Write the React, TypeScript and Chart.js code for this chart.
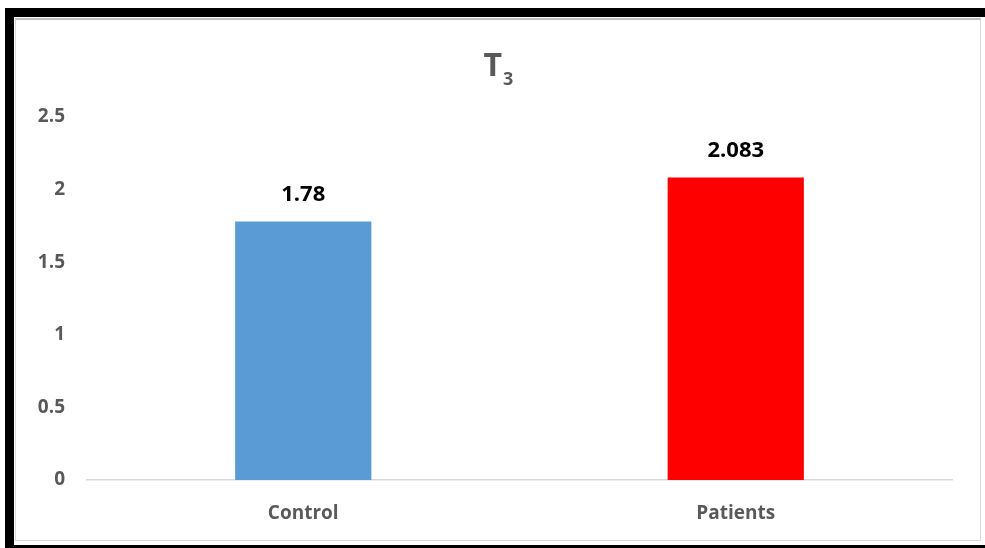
import React, { useEffect, useRef } from "react";
import { Chart, registerables } from "chart.js";

Chart.register(...registerables);

const categories = ["Control", "Patients"];
const values = [1.78, 2.083];
const valueLabels = ["1.78", "2.083"];
const barColors = ["#5B9BD5", "#FF0000"];
const yTicks = [0, 0.5, 1, 1.5, 2, 2.5];

const FONT = "'Open Sans', 'DejaVu Sans', sans-serif";

export default function App() {
  const ref = useRef<HTMLCanvasElement>(null);

  useEffect(() => {
    document.body.style.margin = "0";
    const canvas = ref.current!;
    const titlePlugin = {
      id: "subTitle",
      afterDraw(chart: any) {
        const ctx = chart.ctx;
        ctx.save();
        ctx.fillStyle = "#595959";
        ctx.textBaseline = "alphabetic";
        ctx.textAlign = "left";
        ctx.font = `bold 32px ${FONT}`;
        const tW = ctx.measureText("T").width;
        ctx.font = `bold 18px ${FONT}`;
        const sW = ctx.measureText("3").width;
        const cx = 483;
        const x0 = cx - (tW + sW) / 2;
        ctx.font = `bold 32px ${FONT}`;
        ctx.fillText("T", x0, 59);
        ctx.font = `bold 18px ${FONT}`;
        ctx.fillText("3", x0 + tW + 1, 68);
        ctx.restore();
      },
    };
    const labelPlugin = {
      id: "valueLabels",
      afterDatasetsDraw(chart: any) {
        const ctx = chart.ctx;
        const meta = chart.getDatasetMeta(0);
        ctx.save();
        ctx.fillStyle = "#000000";
        ctx.font = `bold 22px ${FONT}`;
        ctx.textAlign = "center";
        ctx.textBaseline = "middle";
        meta.data.forEach((bar: any, i: number) => {
          ctx.fillText(valueLabels[i], bar.x, bar.y - 27);
        });
        ctx.restore();
      },
    };
    const chart = new Chart(canvas, {
      type: "bar",
      data: {
        labels: categories,
        datasets: [
          {
            data: values,
            backgroundColor: barColors,
            barPercentage: 0.315,
            categoryPercentage: 1,
          },
        ],
      },
      options: {
        animation: false,
        responsive: false,
        maintainAspectRatio: false,
        layout: { padding: { left: 0, right: 29, top: 100, bottom: 0 } },
        plugins: {
          legend: { display: false },
          title: { display: false },
          tooltip: { enabled: false },
        },
        scales: {
          x: {
            grid: { display: false, drawTicks: false },
            border: { display: true, color: "#D9D9D9", width: 1.5 },
            ticks: {
              color: "#595959",
              font: { family: FONT, size: 19, weight: "bold" },
              padding: 22,
            },
            afterFit(scale: any) {
              scale.height = 61;
            },
          },
          y: {
            min: 0,
            max: 2.5,
            grid: { display: false, drawTicks: false },
            border: { display: false },
            afterBuildTicks(scale: any) {
              scale.ticks = yTicks.map((v) => ({ value: v }));
            },
            ticks: {
              color: "#595959",
              font: { family: FONT, size: 19, weight: "bold" },
              padding: 22,
              callback: (v: any) => String(v),
            },
            afterFit(scale: any) {
              scale.width = 72;
            },
          },
        },
      },
      plugins: [titlePlugin, labelPlugin],
    });
    return () => chart.destroy();
  }, []);

  return (
    <div
      style={{
        position: "relative",
        width: 985,
        height: 548,
        background: "#ffffff",
        overflow: "hidden",
      }}
    >
      <div style={{ position: "absolute", left: 5, top: 8, width: 980, height: 9, background: "#000" }} />
      <div style={{ position: "absolute", left: 5, top: 8, width: 9, height: 540, background: "#000" }} />
      <div style={{ position: "absolute", left: 5, top: 545, width: 980, height: 3, background: "#000" }} />
      <div
        style={{
          position: "absolute",
          left: 15,
          top: 18,
          width: 966,
          height: 523,
          border: "1px solid #D9D9D9",
          borderTop: "2px solid #BFBFBF",
          boxSizing: "border-box",
        }}
      />
      <canvas
        ref={ref}
        width={966}
        height={524}
        style={{ position: "absolute", left: 15, top: 17, width: 966, height: 524 }}
      />
    </div>
  );
}
